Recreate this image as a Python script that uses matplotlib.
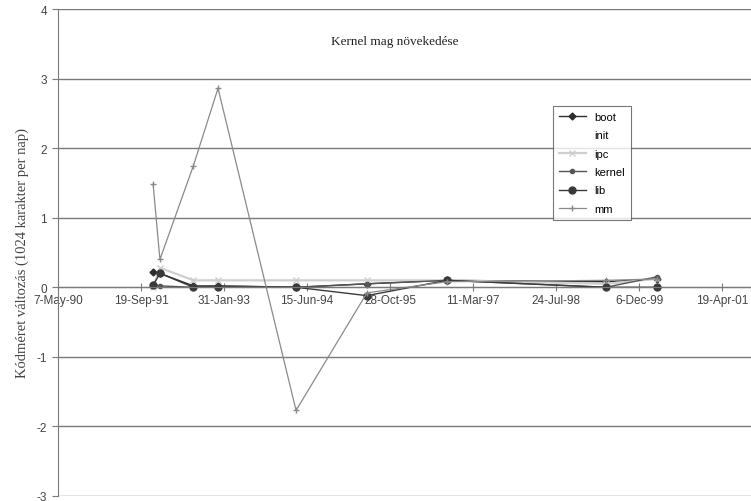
import datetime as dt

import numpy as np
import matplotlib
matplotlib.use("Agg")
import matplotlib.pyplot as plt
import matplotlib.dates as mdates
from matplotlib.ticker import FixedLocator, FuncFormatter

# release dates (one sample per kernel release) and code-size change per day
dates = ["1991-12-01", "1992-01-11", "1992-07-31", "1992-12-26", "1994-04-10",
         "1995-06-11", "1996-10-05", "1999-05-20", "2000-03-22"]
boot   = [0.22, 0.20, 0.02, 0.02, 0.00, 0.05, 0.10, 0.08, 0.12]
ipc    = [0.00, 0.28, 0.10, 0.10, 0.10, 0.10, 0.10, 0.05, 0.12]
kernel = [0.05, 0.02, 0.00, 0.02, 0.00, 0.05, 0.10, 0.00, 0.15]
lib    = [0.03, 0.20, 0.00, 0.00, 0.00, -0.12, 0.10, 0.00, 0.00]
mm     = [1.48, 0.40, 1.75, 2.86, -1.77, -0.08, 0.08, 0.10, 0.12]

series = ["boot", "init", "ipc", "kernel", "lib", "mm"]
y_ticks = [-3, -2, -1, 0, 1, 2, 3, 4]

x = [dt.datetime.strptime(d, "%Y-%m-%d") for d in dates]
start = dt.datetime(1990, 5, 7)
x_ticks = [start + dt.timedelta(days=500 * k) for k in range(9)]

fig = plt.figure(figsize=(7.51, 5.02), dpi=100)
ax = fig.add_axes([58 / 751, 5 / 502, (805 - 58) / 751, 487 / 502])

styles = {
    "boot":   dict(color="#2e2e2e", marker="D", markersize=3.5, lw=1.0),
    "ipc":    dict(color="#cfcfcf", marker="x", markersize=4, lw=1.6),
    "kernel": dict(color="#555555", marker="o", markersize=3, lw=1.0),
    "lib":    dict(color="#3a3a3a", marker="o", markersize=5, lw=1.0),
    "mm":     dict(color="#8a8a8a", marker="+", markersize=4, lw=0.9),
}
data = {"boot": boot, "ipc": ipc, "kernel": kernel, "lib": lib, "mm": mm}

for name in series:
    if name == "init":
        ax.plot([], [], linestyle="none", label=name)
        continue
    ax.plot(x, data[name], label=name, **styles[name])

ax.set_ylim(-3, 4)
ax.set_xlim(start, start + dt.timedelta(days=4500))
ax.yaxis.set_major_locator(FixedLocator(y_ticks))
ax.yaxis.set_major_formatter(FuncFormatter(lambda v, p: f"{int(v)}"))
ax.xaxis.set_major_locator(FixedLocator(mdates.date2num(x_ticks)))
ax.xaxis.set_major_formatter(FuncFormatter(
    lambda v, p: f"{mdates.num2date(v).day}-{mdates.num2date(v).strftime('%b-%y')}"))

ax.grid(True, axis="y", color="#7a7a7a", linewidth=1.0)
ax.set_axisbelow(True)
for s in ("top", "right"):
    ax.spines[s].set_visible(False)
ax.spines["bottom"].set_position(("data", 0))
ax.spines["bottom"].set_color("#7a7a7a")
ax.spines["left"].set_color("#7a7a7a")
ax.tick_params(axis="x", direction="inout", length=6, color="#7a7a7a",
               labelsize=8.5, labelcolor="#444444", pad=2)
ax.tick_params(axis="y", direction="out", length=4, color="#7a7a7a",
               labelsize=8.5, labelcolor="#444444", pad=4)
for lbl in ax.get_xticklabels() + ax.get_yticklabels():
    lbl.set_fontfamily("Liberation Sans")

ax.set_ylabel("Kódméret változás (1024 karakter per nap)", family="Liberation Serif",
              fontsize=10.5, color="#444444", labelpad=5)
fig.text(395 / 751, 1 - 42 / 502, "Kernel mag növekedése", family="Liberation Serif",
         fontsize=9.5, color="#222222", ha="center", va="center")

leg = ax.legend(loc="upper left", frameon=True, fancybox=False, handlelength=2.4,
                labelspacing=0.75, borderpad=0.55, borderaxespad=0,
                prop={"family": "Liberation Sans", "size": 8})
leg.set_bbox_to_anchor((553 / 751, 1 - 107 / 502), transform=fig.transFigure)
leg.get_frame().set_edgecolor("#555555")
leg.get_frame().set_linewidth(0.8)

fig.savefig("out.png", dpi=100)
